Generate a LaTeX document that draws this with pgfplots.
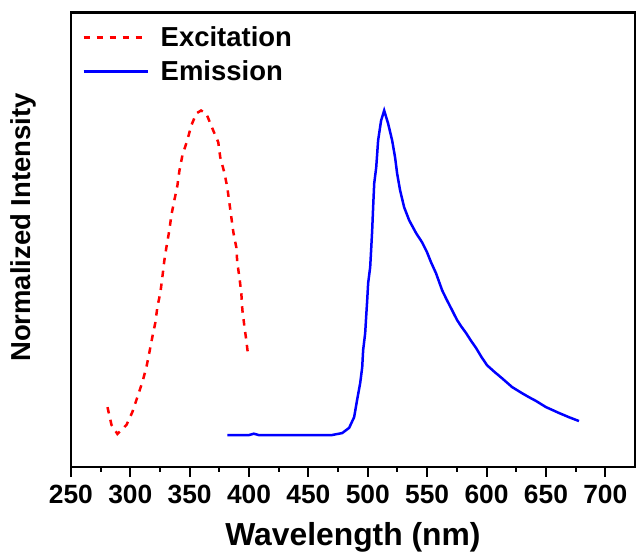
\documentclass[border=0pt]{standalone}
\usepackage{fontspec}
\setmainfont{Liberation Sans}
\usepackage{pgfplots}
\pgfplotsset{compat=1.18}
\definecolor{exRed}{RGB}{255,0,0}
\definecolor{emBlue}{RGB}{0,0,255}

\begin{document}
\begin{tikzpicture}
\begin{axis}[
    width=565bp, height=455bp, scale only axis,
    xmin=250, xmax=725,
    ymin=-0.0985, ymax=1.3015,
    xtick={250,300,...,700},
    minor x tick num=1,
    ytick=\empty,
    xtick pos=bottom,
    tick align=outside,
    major tick length=10bp,
    minor tick length=5bp,
    every tick/.style={black, line width=2bp},
    axis line style={black, line width=2.5bp},
    /pgf/number format/assume math mode=true,
    tick label style={font=\fontsize{26.5}{30}\selectfont\bfseries},
    xticklabel style={yshift=-5bp},
    xlabel={Wavelength (nm)},
    xlabel style={font=\fontsize{32}{38}\selectfont\bfseries,
        at={(axis description cs:0.5,-0.156)}, anchor=center},
    ylabel={Normalized Intensity},
    ylabel style={font=\fontsize{27.6}{33}\selectfont\bfseries,
        at={(axis description cs:-0.085,0.527)}, anchor=center},
    legend style={draw=none, fill=none, at={(axis description cs:0.02,0.974)},
        anchor=north west, inner xsep=0pt, inner ysep=0pt, row sep=9bp,
        font=\fontsize{27.6}{33}\selectfont\bfseries},
    legend cell align=left,
    legend image code/.code={\draw[#1] (0bp,0bp) -- (64bp,0bp);
        \path (74bp,0bp);},
]
% excitation spectrum
\addplot[exRed, line width=2.5bp, dash pattern=on 6.5bp off 6.5bp] coordinates {
(280.8,0.086) (284.2,0.031) (289.2,0.003) (296.8,0.031) (301.8,0.071)
(306.0,0.117) (310.2,0.163) (313.6,0.209) (316.1,0.255) (318.6,0.302)
(321.2,0.348) (322.8,0.394) (325.4,0.440) (327.0,0.486) (328.7,0.538)
(330.4,0.578) (332.9,0.631) (334.6,0.677) (337.1,0.723) (339.7,0.769)
(341.4,0.815) (343.9,0.862) (348.0,0.908) (351.4,0.954) (355.6,0.991)
(359.6,1.000) (364.0,0.991) (369.1,0.945) (374.1,0.902) (375.8,0.855)
(379.2,0.809) (381.7,0.763) (383.4,0.717) (385.1,0.671) (386.8,0.625)
(389.3,0.578) (390.1,0.532) (391.9,0.486) (393.5,0.437) (394.4,0.385)
(396.0,0.338) (397.7,0.292) (399.4,0.240)
};
\addlegendentry{Excitation}
% emission spectrum
\addplot[emBlue, line width=2.5bp] coordinates {
(381.7,0.000) (400.2,0.000) (404.0,0.004) (408.0,0.000) (442.3,0.000)
(470.0,0.000) (478.5,0.006) (484.3,0.022) (488.5,0.055) (491.0,0.108)
(493.6,0.160) (495.3,0.209) (496.1,0.262) (497.8,0.314) (498.6,0.363)
(499.5,0.415) (500.3,0.468) (502.0,0.517) (502.8,0.569) (503.7,0.631)
(504.5,0.702) (505.4,0.775) (507.1,0.825) (508.7,0.908) (511.2,0.969)
(513.8,1.000) (517.1,0.960) (520.5,0.908) (523.0,0.855) (524.7,0.806)
(527.2,0.754) (530.6,0.702) (534.8,0.662) (540.7,0.622) (545.7,0.594)
(549.9,0.563) (553.3,0.532) (557.5,0.498) (562.6,0.446) (566.3,0.418)
(570.1,0.391) (575.2,0.354) (579.0,0.333) (582.8,0.314) (587.0,0.290)
(591.2,0.268) (595.8,0.240) (600.4,0.215) (606.5,0.195) (613.0,0.175)
(621.4,0.148) (629.8,0.129) (635.5,0.117) (641.6,0.105) (650.0,0.086)
(655.5,0.077) (660.9,0.068) (669.3,0.055) (677.8,0.043)
};
\addlegendentry{Emission}
\end{axis}
\pgfresetboundingbox
\path ([shift={(-71bp,-90bp)}]current axis.south west)
    rectangle ([shift={(1bp,12.7bp)}]current axis.north east);
\end{tikzpicture}
\end{document}
